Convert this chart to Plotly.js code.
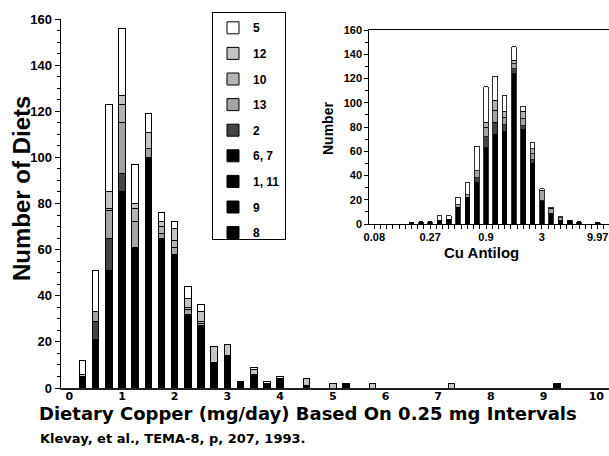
<!DOCTYPE html>
<html>
<head>
<meta charset="utf-8">
<script src="https://cdn.plot.ly/plotly-3.0.1.min.js"></script>
<style>
  html, body { margin: 0; padding: 0; background: #fff; }
  #chart { width: 609px; height: 456px; }
</style>
</head>
<body>
<div id="chart"></div>
<script>
// ---------- Main chart: dietary copper, 0.25 mg intervals ----------
const cuMain = [0.25, 0.5, 0.75, 1, 1.25, 1.5, 1.75, 2, 2.25, 2.5, 2.75, 3, 3.25, 3.5, 3.75, 4, 4.5, 5, 5.25, 5.75, 7.25, 9.25];
const main8   = [5, 21, 51, 85, 61, 100, 65, 58, 32, 27, 11, 14, 3, 6, 2, 4, 1, 0, 2, 0, 0, 2];
const main9   = [0, 0, 0, 0, 0, 0, 0, 0, 0, 0, 0, 0, 0, 0, 0, 0, 0, 0, 0, 0, 0, 0];
const main1_11 = [0, 0, 0, 0, 0, 0, 0, 0, 0, 0, 0, 0, 0, 0, 0, 0, 0, 0, 0, 0, 0, 0];
const main6_7 = [0, 0, 0, 0, 0, 0, 0, 0, 0, 0, 0, 0, 0, 0, 0, 0, 0, 0, 0, 0, 0, 0];
const main2   = [0, 8, 14, 8, 0, 0, 0, 0, 0, 0, 0, 0, 0, 0, 0, 0, 0, 0, 0, 0, 0, 0];
const main13  = [0, 4, 12, 22, 11, 4, 2, 3, 2, 1, 0, 0, 0, 0, 0, 0, 0, 0, 0, 0, 0, 0];
const main10  = [0, 0, 1, 8, 6, 0, 3, 3, 1, 1, 0, 0, 0, 0, 0, 0, 0, 0, 0, 0, 0, 0];
const main12  = [1, 0, 7, 4, 2, 7, 2, 5, 4, 4, 7, 5, 0, 2, 0, 0, 3, 2, 0, 2, 2, 0];
const main5   = [6, 18, 38, 29, 17, 8, 4, 3, 5, 3, 0, 0, 0, 1, 1, 1, 0, 0, 0, 0, 0, 0];
const mainTicks = [0, 1, 2, 3, 4, 5, 6, 7, 8, 9, 10];

// ---------- Inset: Cu antilog (natural-log bins) ----------
const lnBins = [-1.7, -1.5, -1.3, -1.1, -0.9, -0.7, -0.5, -0.3, -0.1, 0.1, 0.3, 0.5, 0.7, 0.9, 1.1, 1.3, 1.5, 1.7, 1.9, 2.3];
const in8   = [1, 2, 2, 3, 4, 14, 22, 34, 63, 74, 76, 124, 78, 50, 19, 9, 3, 3, 2, 1];
const in9   = [0, 0, 0, 0, 0, 0, 0, 0, 0, 0, 0, 0, 0, 0, 0, 0, 0, 0, 0, 0];
const in1_11 = [0, 0, 0, 0, 0, 0, 0, 0, 0, 0, 0, 0, 0, 0, 0, 0, 0, 0, 0, 0];
const in6_7 = [0, 0, 0, 0, 0, 0, 0, 0, 0, 0, 0, 0, 0, 0, 0, 0, 0, 0, 0, 0];
const in2   = [0, 0, 0, 0, 0, 0, 0, 4, 9, 10, 6, 4, 3, 3, 0, 0, 0, 0, 0, 0];
const in13  = [0, 0, 0, 0, 0, 2, 2, 6, 8, 10, 6, 4, 6, 5, 9, 4, 2, 0, 0, 0];
const in10  = [0, 0, 0, 0, 0, 0, 0, 0, 4, 8, 5, 3, 6, 4, 0, 0, 0, 0, 0, 0];
const in12  = [0, 0, 0, 0, 0, 0, 0, 0, 0, 0, 0, 0, 0, 0, 0, 0, 0, 0, 0, 0];
const in5   = [0, 0, 0, 4, 3, 6, 10, 20, 29, 20, 13, 11, 4, 5, 1, 1, 1, 0, 0, 0];
const insetTickVals = [-2.5, -1.3, -0.1, 1.1, 2.3];
const insetTickText = ['0.08', '0.27', '0.9', '3', '9.97'];

// series, bottom of stack first
const seriesNames = ['8', '9', '1, 11', '6, 7', '2', '13', '10', '12', '5'];
const seriesColors = ['#000000', '#000000', '#000000', '#000000', '#444444', '#a4a4a4', '#b4b4b4', '#c4c4c4', '#ffffff'];
const mainData = [main8, main9, main1_11, main6_7, main2, main13, main10, main12, main5];
const insetData = [in8, in9, in1_11, in6_7, in2, in13, in10, in12, in5];

const FONT = 'Liberation Sans, Arial, sans-serif';
const WIDE = 'DejaVu Sans, Liberation Sans, sans-serif';
const traces = [];
seriesNames.forEach((nm, i) => {
  traces.push({
    type: 'bar', name: nm, x: cuMain, y: mainData[i], width: 0.125,
    legendgroup: nm, legendrank: seriesNames.length - i,
    marker: { color: seriesColors[i], line: { color: '#000', width: 1 } },
    xaxis: 'x', yaxis: 'y', hoverinfo: 'x+y+name'
  });
});
seriesNames.forEach((nm, i) => {
  traces.push({
    type: 'bar', name: nm, x: lnBins, y: insetData[i], width: 0.1,
    legendgroup: nm, showlegend: false,
    marker: { color: seriesColors[i], line: { color: '#000', width: 0.8 } },
    xaxis: 'x2', yaxis: 'y2', hoverinfo: 'x+y+name'
  });
});

const W = 548, H = 369, L = 61, B = 68;
const px = v => (v - L) / W;
const py = v => (456 - B - v) / H;

const layout = {
  width: 609, height: 456,
  margin: { l: L, r: 0, t: 19, b: B, pad: 0 },
  paper_bgcolor: '#fff', plot_bgcolor: 'rgba(0,0,0,0)',
  barmode: 'stack', bargap: 0,
  font: { family: FONT, color: '#000' },
  showlegend: true,
  legend: {
    x: px(212), y: py(12.3), xanchor: 'left', yanchor: 'top',
    bordercolor: '#000', borderwidth: 1, bgcolor: '#fff',
    font: { family: FONT, size: 12, weight: 'bold', color: '#000' },
    traceorder: 'grouped', tracegroupgap: 6.6, itemwidth: 30
  },
  xaxis: {
    domain: [0, 1], range: [-8.3 / 52.7, 539.7 / 52.7],
    tickvals: mainTicks, ticks: '', showgrid: false, zeroline: false,
    showline: true, linecolor: '#222', linewidth: 1.5,
    ticklabelstandoff: -3,
    tickfont: { family: WIDE, size: 11, weight: 'bold' }, fixedrange: true
  },
  yaxis: {
    domain: [0, 1], range: [0, 160], tickvals: [0, 20, 40, 60, 80, 100, 120, 140, 160],
    ticks: 'outside', ticklen: 5, tickwidth: 1, tickcolor: '#000',
    minor: { dtick: 5, ticks: 'outside', ticklen: 3, tickcolor: '#000' },
    showgrid: false, zeroline: false, showline: true, linecolor: '#000', linewidth: 1.5,
    tickfont: { family: FONT, size: 13, weight: 'bold' }, fixedrange: true
  },
  xaxis2: {
    domain: [px(369.3), 1], anchor: 'y2', range: [-2.5 - 5 / 46.54, -2.5 + 234.7 / 46.54],
    tickvals: insetTickVals, ticktext: insetTickText,
    ticks: 'outside', ticklen: 4, tickcolor: '#000', ticklabelstandoff: -1,
    minor: { tick0: -2.5, dtick: 1.2 / 9, ticks: 'outside', ticklen: 4, tickcolor: '#000' },
    showgrid: false, zeroline: false, showline: true, mirror: true, linecolor: '#000', linewidth: 1,
    tickfont: { family: FONT, size: 11, weight: 'bold' }, fixedrange: true
  },
  yaxis2: {
    domain: [py(224), py(30)], anchor: 'x2', range: [0, 160],
    tickvals: [0, 20, 40, 60, 80, 100, 120, 140, 160],
    ticks: 'outside', ticklen: 4, tickcolor: '#000',
    minor: { dtick: 10, ticks: 'outside', ticklen: 3, tickcolor: '#000' },
    showgrid: false, zeroline: false, showline: true, mirror: true, linecolor: '#000', linewidth: 1,
    tickfont: { family: FONT, size: 11, weight: 'bold' }, fixedrange: true
  },
  annotations: [
    { text: 'Number of Diets', xref: 'paper', yref: 'paper', x: px(22), y: py(189),
      textangle: -90, showarrow: false, xanchor: 'center', yanchor: 'middle',
      font: { family: FONT, size: 24, weight: 'bold' } },
    { text: 'Dietary Copper (mg/day) Based On 0.25 mg Intervals', xref: 'paper', yref: 'paper',
      x: px(307.5), y: py(413), showarrow: false, xanchor: 'center', yanchor: 'middle',
      font: { family: WIDE, size: 18, weight: 'bold' } },
    { text: 'Klevay, et al., TEMA-8, p, 207, 1993.', xref: 'paper', yref: 'paper',
      x: px(38), y: py(438), showarrow: false, xanchor: 'left', yanchor: 'middle',
      font: { family: WIDE, size: 13, weight: 'bold' } },
    { text: 'Number', xref: 'paper', yref: 'paper', x: px(328), y: py(129),
      textangle: -90, showarrow: false, xanchor: 'center', yanchor: 'middle',
      font: { family: FONT, size: 14, weight: 'bold' } },
    { text: 'Cu Antilog', xref: 'paper', yref: 'paper', x: px(481), y: py(252.5),
      showarrow: false, xanchor: 'center', yanchor: 'middle',
      font: { family: FONT, size: 15, weight: 'bold' } }
  ]
};

Plotly.newPlot('chart', traces, layout, { displayModeBar: false, staticPlot: true });
</script>
</body>
</html>
